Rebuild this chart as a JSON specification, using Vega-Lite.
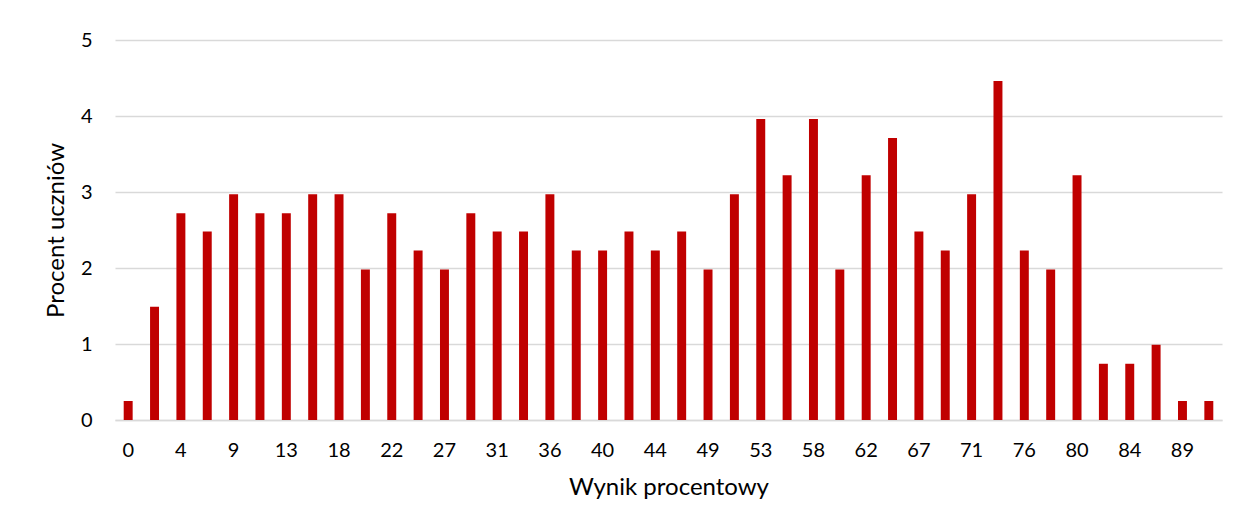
{
  "$schema": "https://vega.github.io/schema/vega-lite/v6.json",
  "autosize": "none",
  "width": 1107,
  "height": 380,
  "padding": {"left": 115, "top": 40, "right": 17, "bottom": 111},
  "background": "white",
  "config": {
    "view": {"stroke": null},
    "font": "Lato"
  },
  "data": {
    "values": [
      {"wynik": 0, "procent": 0.25},
      {"wynik": 2, "procent": 1.49},
      {"wynik": 4, "procent": 2.72},
      {"wynik": 7, "procent": 2.48},
      {"wynik": 9, "procent": 2.97},
      {"wynik": 11, "procent": 2.72},
      {"wynik": 13, "procent": 2.72},
      {"wynik": 16, "procent": 2.97},
      {"wynik": 18, "procent": 2.97},
      {"wynik": 20, "procent": 1.98},
      {"wynik": 22, "procent": 2.72},
      {"wynik": 24, "procent": 2.23},
      {"wynik": 27, "procent": 1.98},
      {"wynik": 29, "procent": 2.72},
      {"wynik": 31, "procent": 2.48},
      {"wynik": 33, "procent": 2.48},
      {"wynik": 36, "procent": 2.97},
      {"wynik": 38, "procent": 2.23},
      {"wynik": 40, "procent": 2.23},
      {"wynik": 42, "procent": 2.48},
      {"wynik": 44, "procent": 2.23},
      {"wynik": 47, "procent": 2.48},
      {"wynik": 49, "procent": 1.98},
      {"wynik": 51, "procent": 2.97},
      {"wynik": 53, "procent": 3.96},
      {"wynik": 56, "procent": 3.22},
      {"wynik": 58, "procent": 3.96},
      {"wynik": 60, "procent": 1.98},
      {"wynik": 62, "procent": 3.22},
      {"wynik": 64, "procent": 3.71},
      {"wynik": 67, "procent": 2.48},
      {"wynik": 69, "procent": 2.23},
      {"wynik": 71, "procent": 2.97},
      {"wynik": 73, "procent": 4.46},
      {"wynik": 76, "procent": 2.23},
      {"wynik": 78, "procent": 1.98},
      {"wynik": 80, "procent": 3.22},
      {"wynik": 82, "procent": 0.74},
      {"wynik": 84, "procent": 0.74},
      {"wynik": 87, "procent": 0.99},
      {"wynik": 89, "procent": 0.25},
      {"wynik": 91, "procent": 0.25}
    ]
  },
  "mark": {"type": "bar", "color": "#C00000"},
  "encoding": {
    "x": {
      "field": "wynik",
      "type": "ordinal",
      "sort": null,
      "scale": {"paddingInner": 0.66, "paddingOuter": 0.33},
      "axis": {
        "title": "Wynik procentowy",
        "values": [0, 4, 9, 13, 18, 22, 27, 31, 36, 40, 44, 49, 53, 58, 62, 67, 71, 76, 80, 84, 89],
        "labelAngle": 0,
        "ticks": false,
        "domainColor": "#D9D9D9",
        "domainWidth": 1.5,
        "labelFont": "Lato",
        "labelFontSize": 20,
        "labelColor": "#000000",
        "labelPadding": 20,
        "titleFont": "Lato",
        "titleFontSize": 24,
        "titleFontWeight": "normal",
        "titleColor": "#000000",
        "titlePadding": 15
      }
    },
    "y": {
      "field": "procent",
      "type": "quantitative",
      "scale": {"domain": [0, 5], "nice": false},
      "axis": {
        "title": "Procent uczniów",
        "values": [0, 1, 2, 3, 4, 5],
        "domain": false,
        "ticks": false,
        "gridColor": "#D9D9D9",
        "gridWidth": 1.5,
        "labelFont": "Lato",
        "labelFontSize": 20,
        "labelColor": "#000000",
        "labelPadding": 23,
        "titleFont": "Lato",
        "titleFontSize": 24,
        "titleFontWeight": "normal",
        "titleColor": "#000000",
        "titlePadding": 12
      }
    }
  }
}
